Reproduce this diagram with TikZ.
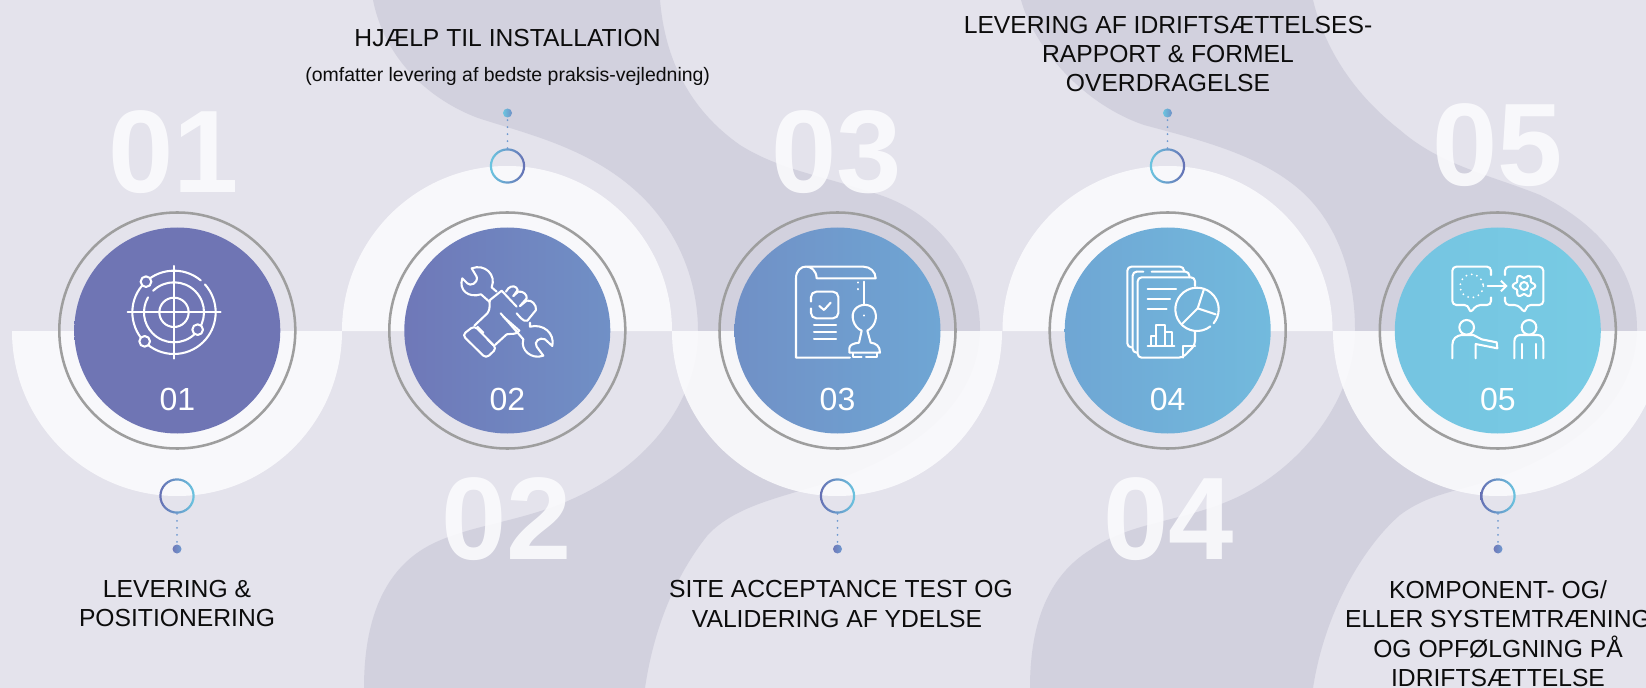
\documentclass[tikz,border=0pt]{standalone}
\usepackage{fontspec}
\setmainfont{Liberation Sans}
\usepackage{xcolor}
\usetikzlibrary{arrows.meta, positioning}

\definecolor{pagebg}{HTML}{E4E3EC}
\definecolor{bandbg}{HTML}{D2D1DE}
\definecolor{softwhite}{HTML}{FBFBFD}
\definecolor{haloline}{HTML}{9E9E9E}
\definecolor{inkblack}{HTML}{0C0C0C}
\definecolor{indigo}{HTML}{6670B4}
\definecolor{skyblue}{HTML}{6BC5E0}
\definecolor{dotblue}{HTML}{6F9AD0}
\definecolor{discA}{HTML}{6F75B4}
\definecolor{discB}{HTML}{6F78B8}
\definecolor{discC}{HTML}{7090C6}
\definecolor{discD}{HTML}{6FA6D4}
\definecolor{discE}{HTML}{72BADD}
\definecolor{discF}{HTML}{75C4E1}
\definecolor{discG}{HTML}{78CBE4}

\tikzset{
    halfdisc/.style={fill=softwhite, fill opacity=0.9},
    bignum/.style={font=\fontsize{88}{88}\selectfont\bfseries, text=softwhite, text opacity=0.9, anchor=base, inner sep=0},
    stepdisc/.style={circle, minimum size=154.5pt, inner sep=0},
    stephalo/.style={circle, draw=haloline, line width=1.9pt, minimum size=177pt, inner sep=0},
    stepnum/.style={font=\fontsize{24}{24}\selectfont, text=white, inner sep=0},
    linkring/.style={circle, minimum size=26.25pt, inner sep=0},
    linkdot/.style={circle, minimum size=6.75pt, inner sep=0},
    dotlink/.style={dotblue, line width=1.5pt, line cap=round, dash pattern=on 0pt off 5.25pt},
    steplabel/.style={font=\fontsize{18.5}{22.1}\selectfont, text=inkblack, align=center, inner sep=0},
    icon/.style={white, line width=1.55pt, line cap=round, line join=round},
}

\begin{document}
\begin{tikzpicture}[x=0.75pt, y=-0.75pt]
    \useasboundingbox (0,0) rectangle (1646,688);
    \fill[pagebg] (0,0) rectangle (1646,688);

    % Background bands
    \fill[bandbg] (373,0) .. controls (385,60) and (430,100) .. (478,118)
        .. controls (530,135) and (600,150) .. (650,205)
        .. controls (690,250) and (698,300) .. (698,331)
        .. controls (698,400) and (650,465) .. (570,500)
        .. controls (520,522) and (470,525) .. (432,544)
        .. controls (390,565) and (364,610) .. (364,688)
        -- (645,688) .. controls (655,620) and (680,570) .. (707,536)
        .. controls (730,510) and (770,500) .. (799,491)
        .. controls (900,465) and (980,410) .. (980,329)
        .. controls (980,270) and (940,215) .. (880,195)
        .. controls (820,175) and (780,170) .. (740,145)
        .. controls (690,110) and (665,60) .. (660,0) -- cycle;
    \fill[bandbg] (1021,0) .. controls (1035,50) and (1085,105) .. (1144,125)
        .. controls (1200,140) and (1260,155) .. (1300,190)
        .. controls (1340,225) and (1355,280) .. (1355,329)
        .. controls (1355,400) and (1300,470) .. (1231,500)
        .. controls (1180,522) and (1130,522) .. (1090,550)
        .. controls (1050,575) and (1030,620) .. (1030,688)
        -- (1313,688) .. controls (1325,610) and (1365,545) .. (1400,515)
        .. controls (1420,500) and (1440,495) .. (1453,491)
        .. controls (1560,465) and (1637,410) .. (1637,329)
        .. controls (1637,270) and (1600,225) .. (1540,195)
        .. controls (1490,175) and (1440,165) .. (1400,130)
        .. controls (1355,95) and (1325,50) .. (1313,0) -- cycle;

    % White half discs
    \foreach \cx/\from/\to in {177/180/0, 507/180/360, 837/180/0, 1167.5/180/360, 1498/180/0} {
        \fill[halfdisc] (\cx-165,331) arc (\from:\to:165) -- cycle;
    }

    % Big numbers
    \node[bignum] (big1) at (174,193) {01};
    \node[bignum] (big2) at (507,559) {02};
    \node[bignum] (big3) at (837,193) {03};
    \node[bignum] (big4) at (1169,559) {04};
    \node[bignum] (big5) at (1498,186) {05};

    % Discs with their number
    \foreach \i/\cx/\colL/\colR in {1/177.3/discA/discA, 2/507.3/discB/discC, 3/837.5/discC/discD, 4/1167.7/discD/discE, 5/1497.8/discF/discG} {
        \node[stephalo] (halo\i) at (\cx,330.5) {};
        \node[stepdisc, left color=\colL, right color=\colR] (disc\i) at (\cx,330.5) {};
        \node[stepnum] (num\i) at (\cx,399.3) {0\i};
    }

    % Small rings and dots
    \foreach \i/\cx/\ry/\dy/\colL/\colR/\dotL/\dotR in {1/177/496/549/indigo/skyblue/discB/dotblue, 2/507.5/166/113/skyblue/indigo/skyblue/discC, 3/837.5/496/549/indigo/skyblue/discB/dotblue, 4/1167.5/166/113/skyblue/indigo/skyblue/discC, 5/1498/496/549/indigo/skyblue/discB/dotblue} {
        \node[linkring] (ring\i) at (\cx,\ry) {};
        \shade[even odd rule, left color=\colL, right color=\colR] (ring\i.center) circle (17.7) circle (15.5);
        \node[linkdot, left color=\dotL, right color=\dotR] (dot\i) at (\cx,\dy) {};
        \draw[dotlink] (ring\i) -- (dot\i);
    }

    % Labels
    \node[steplabel] (label1) at (177,603.5) {LEVERING \&\\POSITIONERING};
    \node[steplabel] (label2) at (507.5,37.7) {HJÆLP TIL INSTALLATION};
    \node[steplabel, font=\fontsize{14.6}{16}\selectfont] (sublabel2) at (507.7,76.8) {(omfatter levering af bedste praksis-vejledning)};
    \node[steplabel] (label3) at (841,604) {SITE ACCEPTANCE TEST OG\\VALIDERING AF YDELSE\hspace*{6pt}};
    \node[steplabel] (label4) at (1168,54) {LEVERING AF IDRIFTSÆTTELSES-\\RAPPORT \& FORMEL\\OVERDRAGELSE};
    \node[steplabel] (label5) at (1498,633.5) {KOMPONENT- OG/\\ELLER SYSTEMTRÆNING\\OG OPFØLGNING PÅ\\IDRIFTSÆTTELSE};

    % Radar icon
    \begin{scope}[shift={(50,200)}, x=0.25pt, y=-0.25pt, icon]
        \draw (233,337) -- (512,337);
        \draw (372,198) -- (372,476);
        \draw (372,337) circle (44);
        \draw (497,337) arc (0:-42:125);
        \draw (372,337) ++(-50:125) arc (-50:-360:125);
        \draw (372,337) ++(-134:90) arc (-134:210:90);
        \foreach \x/\y in {288/245, 284/424, 443/389} {
            \draw[fill=discA] (\x,\y) circle (16);
        }
    \end{scope}

    % Hand with wrench icon
    \begin{scope}[shift={(380,200)}, x=0.25pt, y=-0.25pt, icon]
        \draw (350,275) -- (335,262) .. controls (350,225) and (315,190) .. (275,205) -- (290,230) .. controls (295,250) and (270,260) .. (262,250) -- (247,235) .. controls (235,270) and (265,295) .. (303,283) -- (328,305);
        \draw (450,368) -- (450,380) .. controls (490,370) and (525,400) .. (517,438) -- (495,418) .. controls (480,410) and (460,425) .. (470,440) -- (490,467) .. controls (455,480) and (420,450) .. (430,418) -- (362,340);
        \draw (283,377) -- (322,340) .. controls (335,320) and (325,310) .. (330,300) -- (365,272) -- (410,320);
        \draw (378,275) -- (385,265) .. controls (395,255) and (410,258) .. (413,270) -- (400,288);
        \draw (400,288) -- (415,275) .. controls (430,272) and (442,285) .. (440,295) -- (420,318);
        \draw (420,318) -- (440,302) .. controls (455,298) and (470,315) .. (468,330) -- (442,362);
        \draw (442,362) .. controls (430,368) and (415,345) .. (410,340);
        \draw[rounded corners=3pt] (283,377) -- (247,405) -- (318,475) -- (350,445) -- cycle;
        \draw (345,435) -- (380,403) .. controls (395,400) and (410,405) .. (418,392) -- (370,350);
        \draw (292,380) -- (310,398);
        \draw (322,418) -- (340,436);
    \end{scope}

    % Document and stamp icon
    \begin{scope}[shift={(710,220)}, x=0.25pt, y=-0.25pt, icon]
        \draw (420,413) -- (258,413) -- (258,175) .. controls (258,128) and (318,128) .. (320,175) -- (497,175) .. controls (497,155) and (480,140) .. (460,140) -- (290,140);
        \draw (463,185) -- (463,255);
        \draw (445,187) -- (445,188) (445,207) -- (445,208) (463,286) -- (463,287);
        \draw (418,398) -- (418,385) .. controls (418,375) and (430,370) .. (447,368) -- (455,332) .. controls (430,322) and (420,285) .. (435,268) .. controls (450,250) and (480,250) .. (492,268) .. controls (505,290) and (495,320) .. (472,332) -- (482,368) .. controls (498,370) and (510,378) .. (510,398) -- cycle;
        \draw (430,400) -- (430,412) -- (455,412) (468,412) -- (500,412) -- (500,400);
        \draw[rounded corners=4pt] (303,245) -- (303,215) -- (385,215) -- (385,295) -- (303,295) -- (303,265);
        \draw (328,258) -- (342,270) -- (362,248);
        \foreach \y in {315, 337, 358} {
            \draw (312,\y) -- (378,\y);
        }
    \end{scope}

    % Report icon
    \begin{scope}[shift={(1050,220)}, x=0.25pt, y=-0.25pt, icon]
        \draw[rounded corners=3pt] (245,382) -- (232,382) -- (232,140) -- (402,140) -- (402,155);
        \draw[rounded corners=3pt] (262,398) -- (248,398) -- (248,155) -- (280,155);
        \draw[rounded corners=3pt] (305,155) -- (418,155) -- (418,172);
        \draw[rounded corners=3pt] (435,198) -- (435,172) -- (263,172) -- (263,413) -- (398,413) -- (435,375) -- (435,335);
        \draw (398,413) -- (398,378) -- (435,378);
        \draw (293,208) -- (378,208) (293,238) -- (360,238) (293,268) -- (350,268);
        \draw (293,377) -- (373,377);
        \draw (302,377) -- (302,348) -- (318,348) (318,377) -- (318,315) -- (345,315) -- (345,377) (345,337) -- (365,337) -- (365,377);
        \draw (441,268) ++(52:65) arc (52:400:65);
        \draw (398,310) -- (443,265) -- (462,207);
        \draw (443,265) -- (497,283);
    \end{scope}

    % Speech bubbles and two persons icon
    \begin{scope}[shift={(1380,220)}, x=0.25pt, y=-0.25pt, icon]
        \draw[rounded corners=3pt] (333,165) -- (333,140) -- (217,140) -- (217,255) -- (265,255) -- (270,280) -- (290,255) -- (333,255) -- (333,232);
        \draw[rounded corners=3pt] (375,165) -- (375,140) -- (490,140) -- (490,255) -- (440,255) -- (435,280) -- (415,255) -- (375,255) -- (375,232);
        \draw[dash pattern=on 0pt off 4.1pt] (275,198) circle (35);
        \draw[-{Straight Barb[length=4pt, width=8pt]}] (323,198) -- (383,198);
        \draw[smooth, domain=0:360, samples=49] plot ({432+(29+5*cos(6*\x))*cos(\x)}, {198+(29+5*cos(6*\x))*sin(\x)});
        \draw (432,198) circle (12);
        \draw (260,322) circle (22);
        \draw (217,415) -- (217,375) .. controls (217,355) and (230,347) .. (245,345) -- (280,345) -- (305,358) -- (350,367) -- (352,385) -- (287,372) -- (287,415);
        \draw (447,322) circle (22);
        \draw (403,415) -- (403,365) .. controls (403,352) and (410,345) .. (422,345) -- (472,345) .. controls (484,345) and (490,352) .. (490,365) -- (490,415);
        \draw (425,372) -- (425,415) (468,372) -- (468,415);
    \end{scope}
\end{tikzpicture}
\end{document}
